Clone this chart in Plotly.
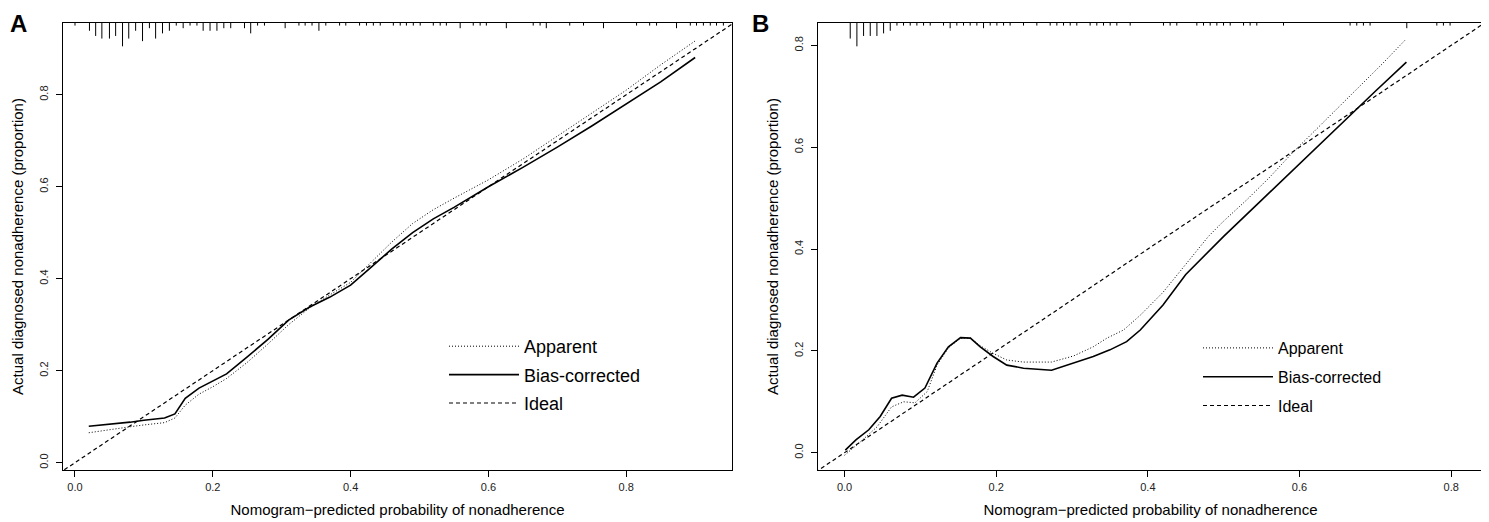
import plotly.graph_objects as go

# ---- panel A: calibration curves ----
a_x = [0.02, 0.05, 0.08, 0.10, 0.13, 0.145, 0.16, 0.18, 0.20, 0.22, 0.25, 0.28, 0.31, 0.34,
       0.37, 0.40, 0.43, 0.46, 0.49, 0.52, 0.55, 0.60, 0.65, 0.70, 0.75, 0.80, 0.85, 0.90]
a_apparent = [0.065, 0.072, 0.078, 0.082, 0.087, 0.097, 0.125, 0.149, 0.165, 0.183, 0.218, 0.258,
              0.300, 0.336, 0.365, 0.392, 0.435, 0.480, 0.520, 0.550, 0.575, 0.615, 0.660, 0.710,
              0.760, 0.810, 0.865, 0.917]
a_bias = [0.079, 0.083, 0.088, 0.092, 0.097, 0.106, 0.140, 0.162, 0.177, 0.193, 0.230, 0.268,
          0.310, 0.338, 0.360, 0.386, 0.425, 0.465, 0.500, 0.530, 0.555, 0.600, 0.642, 0.686,
          0.732, 0.780, 0.828, 0.881]

# rug (spike histogram of predicted probabilities) along the top
a_rug_x = [0.000, 0.021, 0.030, 0.039, 0.050, 0.059, 0.069, 0.078, 0.088, 0.098, 0.108, 0.117,
           0.127, 0.137, 0.147, 0.157, 0.167, 0.177, 0.186, 0.196, 0.206, 0.216, 0.226, 0.246,
           0.255, 0.265, 0.275, 0.305, 0.325, 0.334, 0.344, 0.354, 0.364, 0.384, 0.393, 0.413,
           0.423, 0.433, 0.443, 0.462, 0.472, 0.481, 0.491, 0.501, 0.520, 0.530, 0.539, 0.559,
           0.578, 0.588, 0.597, 0.626, 0.665, 0.675, 0.684, 0.718, 0.738, 0.767, 0.815, 0.834,
           0.844, 0.873, 0.893, 0.902, 0.912, 0.922, 0.931, 0.941]
a_rug_n = [1, 3, 5, 6, 6, 5, 9, 6, 3, 7, 2, 6, 4, 3, 1, 2, 1, 1, 3, 3, 3, 2, 2, 2,
           4, 1, 1, 2, 1, 1, 1, 3, 1, 1, 1, 1, 1, 1, 1, 1, 1, 1, 1, 1, 1, 1, 1, 2,
           1, 1, 1, 2, 1, 1, 2, 1, 1, 2, 1, 1, 1, 2, 1, 1, 1, 1, 1, 1]

# ---- panel B ----
b_x_app = [0.0, 0.02, 0.043, 0.062, 0.078, 0.093, 0.109, 0.122, 0.137, 0.153, 0.166, 0.179, 0.196,
           0.214, 0.236, 0.273, 0.302, 0.328, 0.346, 0.368, 0.39, 0.42, 0.45, 0.48, 0.50, 0.53,
           0.56, 0.59, 0.62, 0.65, 0.68, 0.71, 0.739]
b_apparent = [-0.005, 0.020, 0.051, 0.090, 0.100, 0.098, 0.120, 0.172, 0.206, 0.225, 0.225, 0.210,
              0.195, 0.182, 0.178, 0.178, 0.190, 0.208, 0.225, 0.241, 0.270, 0.315, 0.370, 0.425,
              0.455, 0.496, 0.540, 0.588, 0.632, 0.676, 0.720, 0.765, 0.810]
b_x_bias = [0.001, 0.015, 0.032, 0.047, 0.062, 0.076, 0.091, 0.106, 0.122, 0.137, 0.153, 0.166,
            0.179, 0.196, 0.214, 0.236, 0.273, 0.302, 0.328, 0.35, 0.372, 0.39, 0.42, 0.45, 0.50,
            0.55, 0.60, 0.65, 0.676, 0.70, 0.741]
b_bias = [0.005, 0.025, 0.045, 0.071, 0.107, 0.113, 0.109, 0.127, 0.176, 0.208, 0.226, 0.225,
          0.208, 0.189, 0.172, 0.166, 0.162, 0.176, 0.189, 0.202, 0.218, 0.241, 0.290, 0.350,
          0.425, 0.496, 0.568, 0.640, 0.677, 0.710, 0.767]

b_rug_x = [0.0075, 0.0163, 0.0251, 0.0339, 0.0427, 0.0515, 0.0603, 0.0691, 0.0778, 0.0866, 0.0954,
           0.1042, 0.113, 0.1305, 0.1393, 0.1481, 0.1569, 0.1657, 0.1745, 0.1833, 0.1921, 0.2009,
           0.2097, 0.2184, 0.236, 0.2536, 0.2712, 0.28, 0.2888, 0.2976, 0.3063, 0.3239, 0.3327,
           0.3415, 0.3503, 0.3591, 0.3767, 0.4206, 0.4294, 0.4382, 0.4646, 0.4734, 0.4822, 0.491,
           0.4998, 0.5086, 0.5262, 0.5349, 0.5437, 0.5789, 0.6667, 0.6755, 0.6843, 0.6931, 0.7415,
           0.7811, 0.7898, 0.7986]
b_rug_n = [6, 9, 5, 5, 5, 4, 3, 1, 1, 1, 1, 1, 1, 1, 2, 1, 1, 1, 1, 2, 1, 1, 1, 1, 1, 1, 1, 1, 1,
           1, 1, 1, 1, 1, 1, 1, 1, 1, 1, 1, 1, 1, 1, 1, 1, 1, 1, 1, 1, 1, 1, 1, 1, 1, 2, 1, 1, 1]

x_ticks = [0.0, 0.2, 0.4, 0.6, 0.8]
y_ticks = [0.0, 0.2, 0.4, 0.6, 0.8]
a_xrange, a_yrange = [-0.0174, 0.9535], [-0.016, 0.956]
b_xrange, b_yrange = [-0.035, 0.842], [-0.034, 0.844]

FONT = "Liberation Sans, Arial, sans-serif"
DOT = dict(color="black", width=1, dash="1px,2px")
SOLID = dict(color="black", width=1.6)
DASH = dict(color="black", width=1.2, dash="4px,3px")

# page body has an 8px margin, so the figure is laid out in screen pixels minus that
OFF = 8
W, H = 1489 - OFF, 522 - OFF


def px(x):
    return (x - OFF) / W


def py(y):
    return 1 - (y - OFF) / H


def rug_xy(xs, ns, yrange):
    """spikes hanging down from the top border"""
    top = yrange[1]
    unit = 0.0058 * (yrange[1] - yrange[0])
    rx, ry = [], []
    for x, n in zip(xs, ns):
        rx += [x, x, None]
        ry += [top, top - n * unit, None]
    return rx, ry


fig = go.Figure()

panels = [
    ("x", "y", "legend", a_x, a_apparent, a_x, a_bias, a_rug_x, a_rug_n, a_yrange),
    ("x2", "y2", "legend2", b_x_app, b_apparent, b_x_bias, b_bias, b_rug_x, b_rug_n, b_yrange),
]
for xa, ya, leg, xap, yap, xbc, ybc, rx_, rn_, yr in panels:
    rx, ry = rug_xy(rx_, rn_, yr)
    fig.add_trace(go.Scatter(x=rx, y=ry, mode="lines", line=dict(color="black", width=1),
                             xaxis=xa, yaxis=ya, showlegend=False, hoverinfo="skip"))
    fig.add_trace(go.Scatter(x=xap, y=yap, mode="lines", line=DOT, name="Apparent",
                             xaxis=xa, yaxis=ya, legend=leg, legendgroup="a" + xa))
    fig.add_trace(go.Scatter(x=xbc, y=ybc, mode="lines", line=SOLID, name="Bias-corrected",
                             xaxis=xa, yaxis=ya, legend=leg, legendgroup="b" + xa))
    fig.add_trace(go.Scatter(x=[-0.1, 1.0], y=[-0.1, 1.0], mode="lines", line=DASH, name="Ideal",
                             xaxis=xa, yaxis=ya, legend=leg, legendgroup="c" + xa))

axis_common = dict(showgrid=False, zeroline=False, showline=True, mirror=True, linecolor="black",
                   linewidth=1.2, ticks="outside", ticklen=6, tickwidth=1, tickcolor="black",
                   tickfont=dict(size=11, color="#222"), automargin=False)
xt = dict(axis_common, tickvals=x_ticks, tickformat=".1f", ticklabelstandoff=1)
yt = dict(axis_common, tickvals=y_ticks, tickformat=".1f", tickangle=-90, ticklabelstandoff=4)
xtitle = dict(text="Nomogram\u2212predicted probability of nonadherence", font=dict(size=15),
              standoff=12)
ytitle = dict(text="Actual diagnosed nonadherence (proportion)", font=dict(size=15), standoff=10)
ydom = [py(470), py(23)]

fig.update_layout(
    width=W, height=H, margin=dict(l=0, r=0, t=0, b=0),
    paper_bgcolor="white", plot_bgcolor="white",
    font=dict(family=FONT, color="black"),
    xaxis=dict(xt, domain=[px(63), px(732)], range=a_xrange, anchor="y", title=xtitle),
    yaxis=dict(yt, domain=ydom, range=a_yrange, anchor="x", title=ytitle),
    xaxis2=dict(xt, domain=[px(818), px(1483)], range=b_xrange, anchor="y2", title=xtitle),
    yaxis2=dict(yt, domain=ydom, range=b_yrange, anchor="x2", title=ytitle),
    legend=dict(x=px(444), y=py(328), xanchor="left", yanchor="top", bgcolor="rgba(0,0,0,0)",
                font=dict(size=18), itemwidth=70, tracegroupgap=2),
    legend2=dict(x=px(1198), y=py(331), xanchor="left", yanchor="top", bgcolor="rgba(0,0,0,0)",
                 font=dict(size=16), itemwidth=70, tracegroupgap=5),
    annotations=[
        dict(text="<b>A</b>", x=0, y=1, xref="paper", yref="paper", xanchor="left",
             yanchor="top", showarrow=False, font=dict(size=24)),
        dict(text="<b>B</b>", x=px(750), y=1, xref="paper", yref="paper", xanchor="left",
             yanchor="top", showarrow=False, font=dict(size=24)),
    ],
)

fig.write_html("out.html")
